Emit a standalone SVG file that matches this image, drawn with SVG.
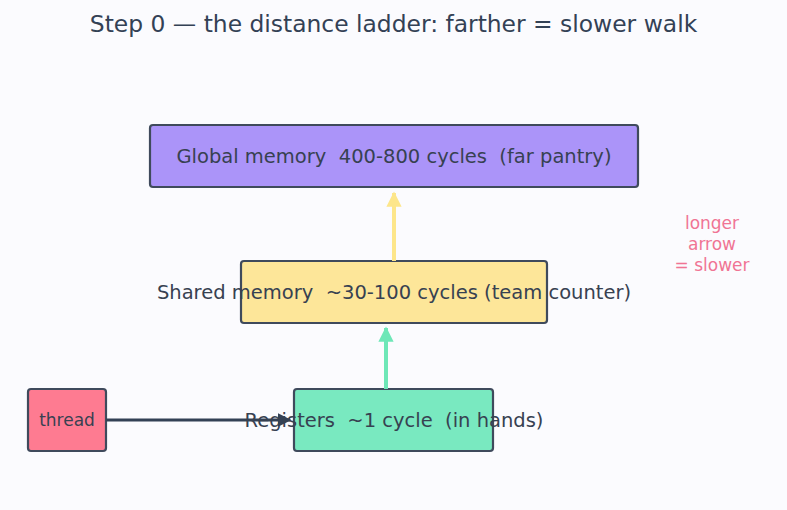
<svg xmlns="http://www.w3.org/2000/svg" width="787" height="510" viewBox="0 0 787 510">
  <style>
    text { font-family: "DejaVu Sans", "Noto Sans", sans-serif; fill: #374151; white-space: pre; }
    .title { font-size: 23.4px; text-anchor: middle; fill: #334155; }
    .label { font-size: 19.5px; text-anchor: middle; }
    .small { font-size: 17px; text-anchor: middle; }
    .note { font-size: 17px; text-anchor: middle; fill: #f07494; }
    .box { stroke: #3f4a5c; stroke-width: 2.2; }
  </style>
  <defs>
    <marker id="headYellow" viewBox="0 0 10 10" refX="9" refY="5" markerWidth="3.8" markerHeight="3.8" orient="auto" markerUnits="strokeWidth">
      <path d="M0,0 L10,5 L0,10 z" fill="#fde68a"/>
    </marker>
    <marker id="headGreen" viewBox="0 0 10 10" refX="9" refY="5" markerWidth="3.8" markerHeight="3.8" orient="auto" markerUnits="strokeWidth">
      <path d="M0,0 L10,5 L0,10 z" fill="#6ee7b7"/>
    </marker>
    <marker id="headDark" viewBox="0 0 10 10" refX="9" refY="5" markerWidth="4.6" markerHeight="4.6" orient="auto" markerUnits="strokeWidth">
      <path d="M0,0 L10,5 L0,10 z" fill="#334155"/>
    </marker>
  </defs>

  <rect width="787" height="510" fill="#fbfbfe"/>

  <text class="title" x="393.5" y="32" xml:space="preserve">Step 0 — the distance ladder: farther = slower walk</text>

  <g id="global">
    <rect class="box" x="150" y="125" width="488" height="62" rx="3" fill="#ab94f9"/>
    <text class="label" x="394" y="163" xml:space="preserve">Global memory  400-800 cycles  (far pantry)</text>
  </g>

  <g id="shared">
    <rect class="box" x="241" y="261" width="306" height="62" rx="3" fill="#fde699"/>
  </g>

  <g id="registers">
    <rect class="box" x="294" y="389" width="199" height="62" rx="3" fill="#79e9c0"/>
  </g>

  <g id="thread">
    <rect class="box" x="28" y="389" width="78" height="62" rx="3" fill="#fe7b91"/>
    <text class="small" x="67" y="426">thread</text>
  </g>

  <g id="connectors">
    <line x1="394" y1="261" x2="394" y2="193" stroke="#fde68a" stroke-width="4" marker-end="url(#headYellow)"/>
    <line x1="386" y1="389" x2="386" y2="328" stroke="#6ee7b7" stroke-width="4" marker-end="url(#headGreen)"/>
    <line x1="106" y1="420" x2="290" y2="420" stroke="#334155" stroke-width="3" marker-end="url(#headDark)"/>
  </g>

  <!-- node labels drawn above the connectors -->
  <text class="label" x="394" y="299" xml:space="preserve">Shared memory  ~30-100 cycles (team counter)</text>
  <text class="label" x="394" y="427" xml:space="preserve">Registers  ~1 cycle  (in hands)</text>

  <g id="legend">
    <text class="note" x="712" y="229">longer</text>
    <text class="note" x="712" y="250">arrow</text>
    <text class="note" x="712" y="271">= slower</text>
  </g>
</svg>
